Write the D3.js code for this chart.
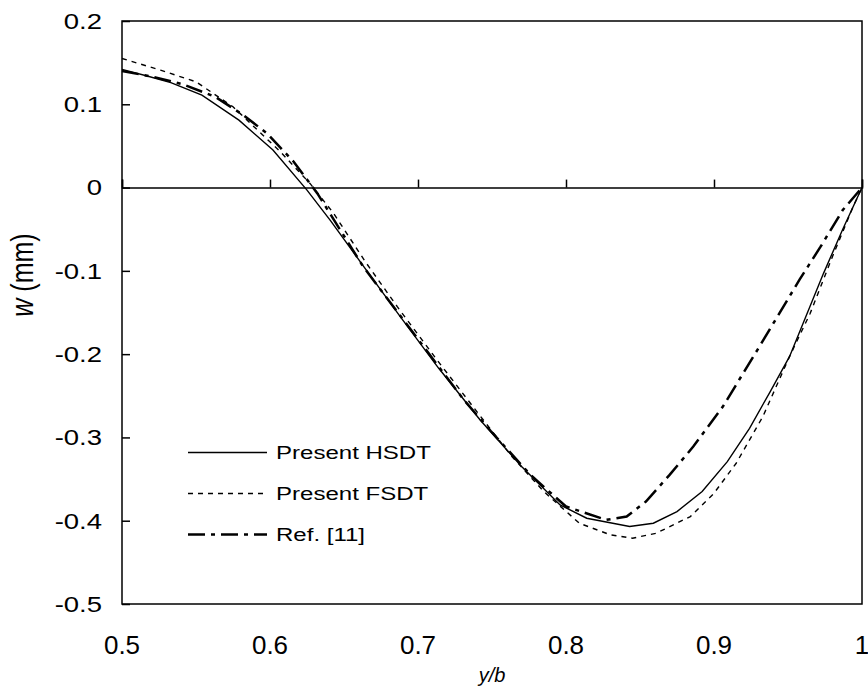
<!DOCTYPE html>
<html>
<head>
<meta charset="utf-8">
<script src="https://cdn.jsdelivr.net/npm/d3@7"></script>
<style>
  body { margin: 0; background: #fff; }
  svg text { font-family: "Liberation Sans", Arial, sans-serif; fill: #000; }
</style>
</head>
<body>
<div id="chart"></div>
<script>
// deflection along y/b
const hsdtX = [0.5, 0.517, 0.533, 0.554, 0.579, 0.602, 0.625, 0.641, 0.663, 0.688, 0.714, 0.742, 0.770, 0.796, 0.814, 0.843, 0.859, 0.875, 0.892, 0.909, 0.924, 0.938, 0.951, 0.974, 0.987, 1.0];
const hsdtW = [0.142, 0.134, 0.126, 0.111, 0.081, 0.045, -0.003, -0.040, -0.094, -0.155, -0.217, -0.279, -0.335, -0.381, -0.397, -0.407, -0.403, -0.389, -0.365, -0.329, -0.289, -0.245, -0.203, -0.103, -0.050, 0.0];

const fsdtX = [0.5, 0.526, 0.550, 0.575, 0.607, 0.627, 0.643, 0.664, 0.686, 0.712, 0.738, 0.763, 0.785, 0.809, 0.830, 0.845, 0.861, 0.884, 0.900, 0.915, 0.933, 0.951, 0.965, 0.980, 0.994, 1.0];
const fsdtW = [0.155, 0.141, 0.127, 0.097, 0.043, 0.005, -0.031, -0.088, -0.143, -0.205, -0.265, -0.322, -0.365, -0.403, -0.417, -0.421, -0.415, -0.395, -0.367, -0.331, -0.275, -0.203, -0.151, -0.083, -0.023, 0.0];

const refX = [0.5, 0.521, 0.541, 0.563, 0.582, 0.598, 0.616, 0.632, 0.663, 0.697, 0.731, 0.749, 0.776, 0.800, 0.827, 0.841, 0.854, 0.870, 0.886, 0.906, 0.931, 0.958, 0.972, 0.987, 1.0];
const refW = [0.140, 0.133, 0.124, 0.109, 0.087, 0.065, 0.031, -0.007, -0.095, -0.175, -0.255, -0.292, -0.345, -0.383, -0.399, -0.395, -0.377, -0.345, -0.311, -0.263, -0.190, -0.110, -0.071, -0.027, 0.0];

const xTicks = [0.5, 0.6, 0.7, 0.8, 0.9, 1];
const yTicks = [0.2, 0.1, 0, -0.1, -0.2, -0.3, -0.4, -0.5];
const seriesNames = ["Present HSDT", "Present FSDT", "Ref. [11]"];

const width = 868, height = 692;
const margin = { left: 122, right: 6, top: 21, bottom: 88 };
const stretch = 1.25; // text in the original is drawn wider than it is tall

const svg = d3.select("#chart")
    .append("svg")
    .attr("width", width)
    .attr("height", height);

const x = d3.scaleLinear().domain([0.5, 1]).range([margin.left, width - margin.right]);
const y = d3.scaleLinear().domain([-0.5, 0.2]).range([height - margin.bottom, margin.top]);

// plot frame
svg.append("rect")
    .attr("x", x(0.5))
    .attr("y", y(0.2))
    .attr("width", x(1) - x(0.5))
    .attr("height", y(-0.5) - y(0.2))
    .attr("fill", "none")
    .attr("stroke", "#000")
    .attr("stroke-width", 1.5);

// x axis sits on w = 0, ticks pointing up, labels at the bottom
const xAxis = svg.append("g")
    .attr("transform", `translate(0,${y(0)})`)
    .call(d3.axisTop(x).tickValues(xTicks).tickSize(8).tickFormat(""));
xAxis.select(".domain").attr("stroke-width", 1.5);
xAxis.selectAll(".tick line").attr("stroke-width", 1.5);

svg.append("g")
    .selectAll("text")
    .data(xTicks)
    .enter()
    .append("text")
    .attr("x", d => x(d))
    .attr("y", y(-0.5) + 50)
    .attr("text-anchor", "middle")
    .attr("font-size", 26)
    .text(d => String(d));

// y axis, ticks pointing inward
const yAxis = svg.append("g")
    .attr("transform", `translate(${x(0.5)},0)`)
    .call(d3.axisRight(y).tickValues(yTicks).tickSize(8).tickFormat(""));
yAxis.select(".domain").remove();
yAxis.selectAll(".tick line").attr("stroke-width", 1.5);

svg.append("g")
    .selectAll("text")
    .data(yTicks)
    .enter()
    .append("text")
    .attr("transform", d => `translate(${x(0.5) - 20},${y(d)}) scale(${stretch},1)`)
    .attr("dy", "0.36em")
    .attr("text-anchor", "end")
    .attr("font-size", 22)
    .text(d => String(d));

// axis titles
svg.append("text")
    .attr("x", x(0.75))
    .attr("y", y(-0.5) + 78)
    .attr("text-anchor", "middle")
    .attr("font-size", 20)
    .attr("font-style", "italic")
    .text("y/b");

const yTitle = svg.append("text")
    .attr("transform", `translate(33,${y(-0.105)}) scale(${stretch},1) rotate(-90)`)
    .attr("text-anchor", "middle")
    .attr("font-size", 25);
yTitle.append("tspan").attr("font-style", "italic").text("w");
yTitle.append("tspan").text(" (mm)");

// curves
const line = d3.line()
    .x(d => x(d[0]))
    .y(d => y(d[1]));

const series = [
    { name: seriesNames[0], pts: d3.zip(hsdtX, hsdtW), width: 1.4, dash: null },
    { name: seriesNames[1], pts: d3.zip(fsdtX, fsdtW), width: 1.4, dash: "5,5" },
    { name: seriesNames[2], pts: d3.zip(refX, refW), width: 2.5, dash: "17,6,4,6" }
];

svg.append("g")
    .selectAll("path")
    .data(series)
    .enter()
    .append("path")
    .attr("d", d => line(d.pts))
    .attr("fill", "none")
    .attr("stroke", "#000")
    .attr("stroke-width", d => d.width)
    .attr("stroke-dasharray", d => d.dash);

// legend
const legend = svg.append("g")
    .selectAll("g")
    .data(series)
    .enter()
    .append("g")
    .attr("transform", (d, i) => `translate(188,${452.5 + i * 41})`);

legend.append("line")
    .attr("x1", 0)
    .attr("x2", 79)
    .attr("stroke", "#000")
    .attr("stroke-width", d => d.width)
    .attr("stroke-dasharray", d => d.dash);

legend.append("text")
    .attr("transform", `translate(88,0) scale(1.3,1)`)
    .attr("dy", "0.36em")
    .attr("font-size", 18.5)
    .text(d => d.name);
</script>
</body>
</html>
